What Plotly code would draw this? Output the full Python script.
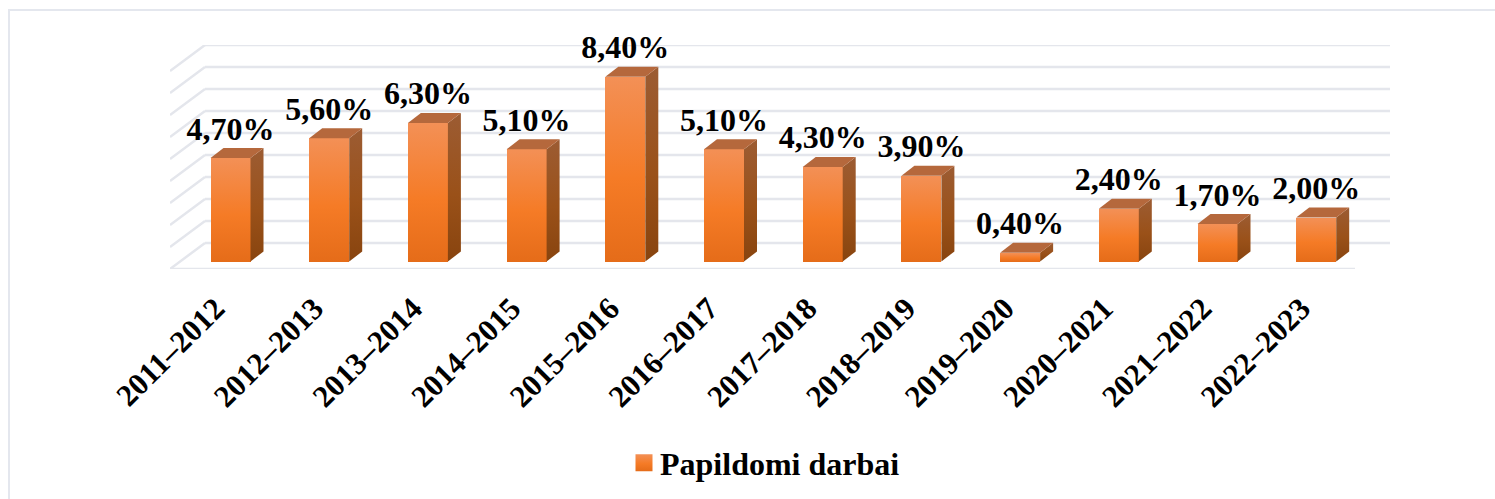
import plotly.graph_objects as go

periods = ["2011–2012", "2012–2013", "2013–2014", "2014–2015", "2015–2016", "2016–2017",
           "2017–2018", "2018–2019", "2019–2020", "2020–2021", "2021–2022", "2022–2023"]
values = [4.7, 5.6, 6.3, 5.1, 8.4, 5.1, 4.3, 3.9, 0.4, 2.4, 1.7, 2.0]
series_name = "Papildomi darbai"
wall_levels = list(range(10))

W, H = 1495, 499
FONT = "Liberation Serif"
PX_X, PX_Y = 98.7, 22.0          # pixels per data unit
X0 = 230.5                       # pixel of the first category
BAR_W = 40 / PX_X
DX, DY = 13 / PX_X, 10 / PX_Y    # bar depth
WDX, WDY = 35 / PX_X, 26 / PX_Y  # floor depth
WALL0 = 18.5 / PX_Y              # wall baseline over bar baseline
GRID = "#e4e6ec"
SIDE_KEY, TOP = "#a0551f", "#b5683c"

fig = go.Figure()
idx = list(range(len(values)))
fig.add_trace(go.Bar(x=idx, y=values, width=BAR_W, name=series_name,
                     marker=dict(color="#f47a22", line_width=0), hoverinfo="skip"))

for i, v in zip(idx, values):
    l, r = i - BAR_W / 2, i + BAR_W / 2
    fig.add_trace(go.Scatter(x=[r, r + DX, r + DX, r, r], y=[0, DY, v + DY, v, 0], mode="lines",
                             fill="toself", fillcolor=SIDE_KEY, line_width=0,
                             showlegend=False, hoverinfo="skip"))
    fig.add_trace(go.Scatter(x=[l, r, r + DX, l + DX, l], y=[v, v, v + DY, v + DY, v], mode="lines",
                             fill="toself", fillcolor=TOP, line_width=0,
                             showlegend=False, hoverinfo="skip"))

fig.add_trace(go.Scatter(x=idx, y=[v + 26.5 / PX_Y for v in values], mode="text",
                         text=[f"{v:.2f}".replace(".", ",") + "%" for v in values],
                         textposition="middle center", cliponaxis=False,
                         textfont=dict(family=FONT, size=32, color="#000000", weight="bold"),
                         showlegend=False, hoverinfo="skip"))

x_left = (170 - X0) / PX_X
x_back = x_left + WDX
x_right_back = (1390 - X0) / PX_X
x_right_front = x_right_back - WDX
shapes = []
for lv in wall_levels:
    y = WALL0 + lv
    shapes.append(dict(type="line", xref="x", yref="y", x0=x_back, x1=x_right_back, y0=y, y1=y,
                       line=dict(color=GRID, width=2.5), layer="below"))
    shapes.append(dict(type="line", xref="x", yref="y", x0=x_left, x1=x_back, y0=y - WDY, y1=y,
                       line=dict(color=GRID, width=2.5), layer="below"))
shapes.append(dict(type="line", xref="x", yref="y", x0=x_left, x1=x_right_front,
                   y0=WALL0 - WDY, y1=WALL0 - WDY, line=dict(color=GRID, width=2.5), layer="below"))
# outer frame of the chart: left and top edges only
shapes.append(dict(type="path", xref="paper", yref="paper",
                   path=f"M {9/W} 0 L {9/W} {1-10/H} L 1 {1-10/H}",
                   line=dict(color="#e4e7ee", width=2), layer="below"))

fig.update_layout(
    width=W, height=H, margin=dict(l=0, r=0, t=0, b=0, autoexpand=False),
    paper_bgcolor="white", plot_bgcolor="rgba(0,0,0,0)", shapes=shapes, bargap=0,
    font=dict(family=FONT, color="#000000"),
    showlegend=True,
    legend=dict(x=620 / W, y=1 - 463 / H, xanchor="left", yanchor="middle", bgcolor="rgba(0,0,0,0)",
                font=dict(family=FONT, size=32, color="#000000", weight="bold"), itemclick=False),
    xaxis=dict(domain=[170 / W, 1390 / W], range=[x_left, x_right_back],
               tickvals=[i - 15 / PX_X for i in idx], ticktext=periods,
               tickangle=-45, showgrid=False, zeroline=False, showline=False, ticks="",
               ticklabelstandoff=14,
               tickfont=dict(family=FONT, size=31, color="#000000", weight="bold")),
    yaxis=dict(domain=[1 - 269 / H, 1 - 45 / H], range=[WALL0 - WDY, WALL0 + wall_levels[-1]],
               visible=False, showgrid=False, zeroline=False),
)

post = """
document.body.style.margin='0';
var gd=document.querySelector('.plotly-graph-div');
var svg=gd.querySelector('.main-svg');
var ns='http://www.w3.org/2000/svg';
var defs=svg.querySelector('defs');
function grad(id,stops){var g=document.createElementNS(ns,'linearGradient');g.setAttribute('id',id);
 g.setAttribute('x1','0');g.setAttribute('y1','0');g.setAttribute('x2','0');g.setAttribute('y2','1');
 stops.forEach(function(s){var e=document.createElementNS(ns,'stop');e.setAttribute('offset',s[0]);e.setAttribute('stop-color',s[1]);g.appendChild(e);});
 defs.appendChild(g);}
grad('frontG',[[0,'#f39056'],[0.55,'#f57b26'],[1,'#e56c19']]);
grad('sideG',[[0,'#9c5c33'],[0.55,'#9a5119'],[1,'#88440f']]);
gd.querySelectorAll('.barlayer .point path').forEach(function(p){p.style.fill='url(#frontG)';});
gd.querySelectorAll('.scatterlayer path.js-fill').forEach(function(p){
 if(p.style.fill==='rgb(160, 85, 31)'){p.style.fill='url(#sideG)';}});
gd.querySelectorAll('.legend .legendbar, .legend .legendpoints path').forEach(function(p){
 p.setAttribute('d','M12.5,8.5H-4.5V-8.5H12.5Z');p.style.fill='url(#frontG)';});
"""
fig.write_html("out.html", post_script=post, config={"displayModeBar": False})
